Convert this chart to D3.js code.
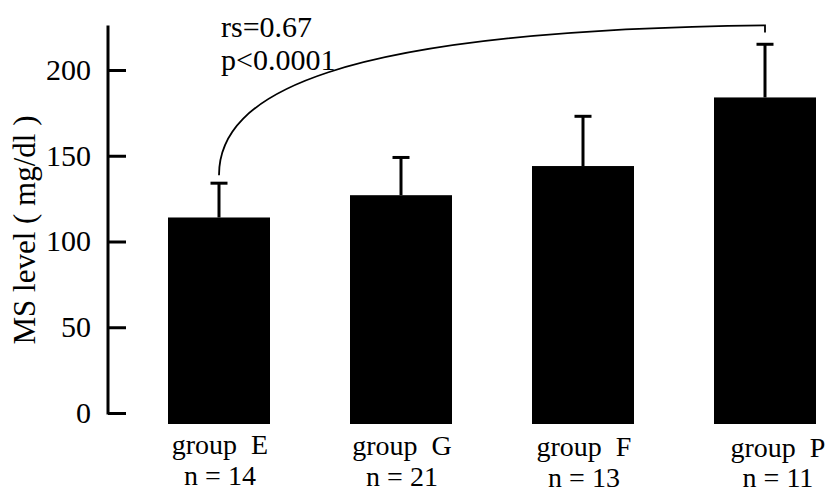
<!DOCTYPE html>
<html>
<head>
<meta charset="utf-8">
<script src="https://cdn.jsdelivr.net/npm/d3@7"></script>
<style>
  html, body { margin: 0; padding: 0; background: #fff; }
  svg text { font-family: "Liberation Serif", "Times New Roman", serif; fill: #000; white-space: pre; }
</style>
</head>
<body>
<svg id="chart" width="833" height="495"></svg>
<script>
const groups = ["group  E", "group  G", "group  F", "group  P"];
const nLabels = ["n = 14", "n = 21", "n = 13", "n = 11"];
const means = [114, 127, 144, 184];
const sds = [20, 22, 29, 31];
const yTicks = [0, 50, 100, 150, 200];
const yTitle = "MS level ( mg/dl )";
const statLines = ["rs=0.67", "p<0.0001"];
const bracketTop = 226;

const svg = d3.select("#chart");
const y = d3.scaleLinear().domain([0, 200]).range([413, 70]);
const x = d3.scalePoint().domain(groups).range([219, 765]);
const barW = 102;

// axis
const axis = d3.axisRight(y).tickValues(yTicks).tickSize(18).tickFormat("");
const ax = svg.append("g").attr("transform", "translate(108,0)").call(axis);
ax.select(".domain").remove();
ax.selectAll(".tick line").attr("stroke", "#000").attr("stroke-width", 3);
svg.append("line").attr("x1", 108).attr("x2", 108)
  .attr("y1", y(226)).attr("y2", y(0) + 1.5)
  .attr("stroke", "#000").attr("stroke-width", 3);

svg.append("g").selectAll("text").data(yTicks).join("text")
  .attr("x", 91).attr("y", d => y(d)).attr("dy", "0.33em")
  .attr("text-anchor", "end").attr("font-size", 30)
  .text(d => d);

svg.append("text")
  .attr("transform", `translate(35,${230}) rotate(-90)`)
  .attr("text-anchor", "middle").attr("font-size", 31)
  .text(yTitle);

// bars
svg.append("g").selectAll("rect").data(groups).join("rect")
  .attr("x", d => x(d) - barW / 2)
  .attr("width", barW)
  .attr("y", (d, i) => y(means[i]))
  .attr("height", (d, i) => y(0) + 11 - y(means[i]))
  .attr("fill", "#000");

// error bars
const eb = svg.append("g").attr("stroke", "#000").attr("stroke-width", 3);
eb.selectAll("line.v").data(groups).join("line").attr("class", "v")
  .attr("x1", d => x(d)).attr("x2", d => x(d))
  .attr("y1", (d, i) => y(means[i])).attr("y2", (d, i) => y(means[i] + sds[i]));
eb.selectAll("line.c").data(groups).join("line").attr("class", "c")
  .attr("x1", d => x(d) - 8.5).attr("x2", d => x(d) + 8.5)
  .attr("y1", (d, i) => y(means[i] + sds[i])).attr("y2", (d, i) => y(means[i] + sds[i]));

// bracket
const x0 = x(groups[0]), x3 = x(groups[3]);
const yStart = y(means[0] + sds[0]) - 8;
const yTop = y(bracketTop);
const p = d3.path();
p.moveTo(x0, yStart);
p.bezierCurveTo(x0, yTop + 70, x0 + 110, yTop + 5, x3, yTop);
p.lineTo(x3, yTop + 7);
svg.append("path").attr("d", p.toString())
  .attr("fill", "none").attr("stroke", "#000").attr("stroke-width", 1.8);

svg.append("g").selectAll("text").data(statLines).join("text")
  .attr("x", 221).attr("y", (d, i) => 37 + i * 33)
  .attr("font-size", 30).text(d => d);

// category labels
const shift = i => (i === groups.length - 1 ? 13 : 1);
const lab = svg.append("g").attr("text-anchor", "middle").attr("font-size", 28);
lab.selectAll("text.g").data(groups).join("text").attr("class", "g")
  .attr("x", (d, i) => x(d) + shift(i)).attr("y", (d, i) => 454 + i).text(d => d);
lab.selectAll("text.n").data(groups).join("text").attr("class", "n")
  .attr("x", (d, i) => x(d) + shift(i)).attr("y", (d, i) => 485 + i * 0.8).text((d, i) => nLabels[i]);
</script>
</body>
</html>
